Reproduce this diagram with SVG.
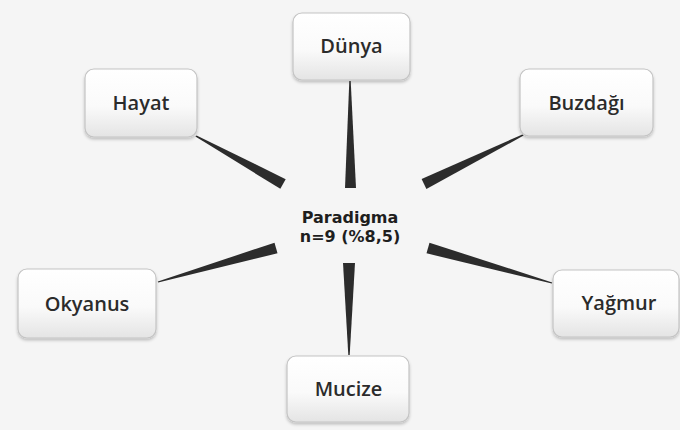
<svg xmlns="http://www.w3.org/2000/svg" width="680" height="430" viewBox="0 0 680 430">
<defs>
<linearGradient id="boxg" x1="0" y1="0" x2="0" y2="1">
<stop offset="0" stop-color="#ffffff"/>
<stop offset="0.55" stop-color="#fafafa"/>
<stop offset="1" stop-color="#e4e4e4"/>
</linearGradient>
<filter id="sh" x="-10%" y="-10%" width="120%" height="130%">
<feDropShadow dx="0" dy="2" stdDeviation="1.5" flood-color="#000" flood-opacity="0.22"/>
</filter>
</defs>
<style>
.box{fill:url(#boxg);stroke:#c4c4c4;stroke-width:1.2;filter:url(#sh)}
.lbl{font-family:"Open Sans","DejaVu Sans",sans-serif;font-weight:600;font-size:20px;fill:#2b2b2b;text-anchor:middle}
.ctr{font-family:"DejaVu Sans","Open Sans",sans-serif;font-weight:bold;font-size:16px;fill:#1e1e1e;text-anchor:middle}
.wedge{fill:#2c2c2c}
</style>
<rect width="680" height="430" fill="#f5f5f5"/>
<g id="connectors">
<polygon class="wedge" points="349.3,81 350.7,81 356,188 345,188"/>
<polygon class="wedge" points="195.4,136.6 196.6,135.4 285.7,179.2 280.3,188.8"/>
<polygon class="wedge" points="522.4,134.4 523.6,135.6 426.4,188.9 421.6,179.1"/>
<polygon class="wedge" points="157.8,281.4 158.2,282.6 277.5,253.3 274.5,242.7"/>
<polygon class="wedge" points="552.2,282.4 551.8,283.6 426.5,253.3 429.5,242.7"/>
<polygon class="wedge" points="348.3,355 349.7,355 355,263 343,263"/>
</g>
<g id="center">
<text class="ctr" x="350" y="223">Paradigma</text>
<text class="ctr" x="350" y="242">n=9 (%8,5)</text>
</g>
<g id="node-dunya">
<rect class="box" x="293" y="13" width="117" height="67" rx="9"/>
<text class="lbl" x="351.5" y="53">Dünya</text>
</g>
<g id="node-hayat">
<rect class="box" x="85" y="69" width="112" height="68" rx="9"/>
<text class="lbl" x="141" y="110">Hayat</text>
</g>
<g id="node-buzdagi">
<rect class="box" x="520" y="69" width="133" height="67" rx="9"/>
<text class="lbl" x="586.5" y="110">Buzdağı</text>
</g>
<g id="node-okyanus">
<rect class="box" x="18" y="269" width="138" height="69" rx="9"/>
<text class="lbl" x="87" y="311">Okyanus</text>
</g>
<g id="node-yagmur">
<rect class="box" x="553" y="270" width="126" height="67" rx="9"/>
<text class="lbl" x="619" y="310">Yağmur</text>
</g>
<g id="node-mucize">
<rect class="box" x="287" y="356" width="122" height="66" rx="9"/>
<text class="lbl" x="348.5" y="396">Mucize</text>
</g>
</svg>
